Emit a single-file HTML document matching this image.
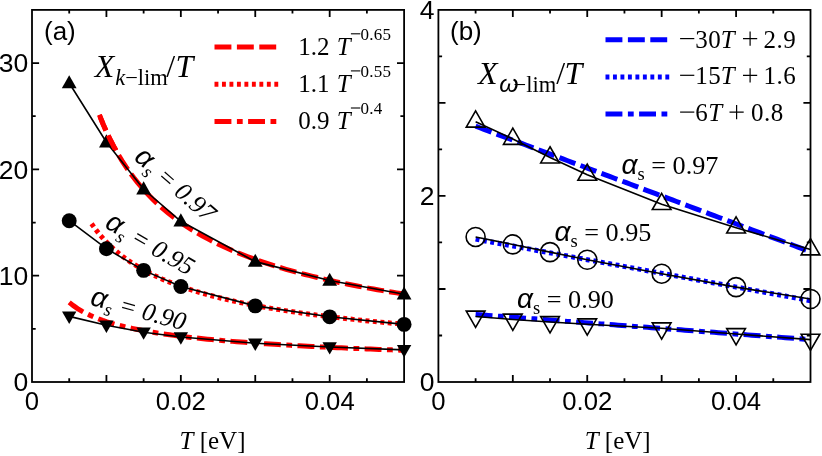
<!DOCTYPE html>
<html><head><meta charset="utf-8"><title>chart</title>
<style>html,body{margin:0;padding:0;background:#fff;}svg{display:block;will-change:transform;}</style></head>
<body>
<svg width="822" height="456" viewBox="0 0 822 456">
<rect width="822" height="456" fill="#fff"/>
<path d="M99.35,114.91 L103.16,124.30 L106.97,132.89 L110.78,140.78 L114.59,148.07 L118.40,154.83 L122.21,161.11 L126.02,166.97 L129.83,172.45 L133.63,177.59 L137.44,182.42 L141.25,186.98 L145.06,191.27 L148.87,195.34 L152.68,199.19 L156.49,202.84 L160.30,206.32 L164.11,209.63 L167.92,212.78 L171.73,215.80 L175.54,218.68 L179.35,221.44 L183.16,224.08 L186.97,226.61 L190.78,229.05 L194.58,231.38 L198.39,233.63 L202.20,235.80 L206.01,237.89 L209.82,239.90 L213.63,241.85 L217.44,243.73 L221.25,245.54 L225.06,247.30 L228.87,249.00 L232.68,250.64 L236.49,252.24 L240.30,253.79 L244.11,255.29 L247.92,256.75 L251.73,258.16 L255.53,259.54 L259.34,260.88 L263.15,262.18 L266.96,263.44 L270.77,264.68 L274.58,265.88 L278.39,267.05 L282.20,268.19 L286.01,269.30 L289.82,270.39 L293.63,271.45 L297.44,272.48 L301.25,273.49 L305.06,274.48 L308.87,275.44 L312.68,276.38 L316.48,277.30 L320.29,278.20 L324.10,279.09 L327.91,279.95 L331.72,280.79 L335.53,281.62 L339.34,282.43 L343.15,283.23 L346.96,284.00 L350.77,284.77 L354.58,285.52 L358.39,286.25 L362.20,286.97 L366.01,287.67 L369.82,288.37 L373.63,289.05 L377.43,289.71 L381.24,290.37 L385.05,291.01 L388.86,291.65 L392.67,292.27 L396.48,292.88 L400.29,293.48 L404.10,294.07" stroke="#ff0000" stroke-width="5.0" stroke-dasharray="16.9 5.5" fill="none"/>
<path d="M91.54,223.72 L95.44,229.16 L99.35,234.10 L103.26,238.62 L107.16,242.77 L111.07,246.59 L114.98,250.14 L118.89,253.43 L122.79,256.51 L126.70,259.38 L130.61,262.08 L134.51,264.61 L138.42,267.00 L142.33,269.26 L146.23,271.40 L150.14,273.42 L154.05,275.35 L157.96,277.18 L161.86,278.93 L165.77,280.60 L169.68,282.19 L173.58,283.71 L177.49,285.17 L181.40,286.57 L185.31,287.92 L189.21,289.21 L193.12,290.46 L197.03,291.66 L200.93,292.81 L204.84,293.93 L208.75,295.00 L212.65,296.04 L216.56,297.05 L220.47,298.02 L224.38,298.96 L228.28,299.88 L232.19,300.76 L236.10,301.62 L240.00,302.45 L243.91,303.26 L247.82,304.05 L251.73,304.82 L255.63,305.56 L259.54,306.29 L263.45,306.99 L267.35,307.68 L271.26,308.35 L275.17,309.00 L279.07,309.64 L282.98,310.26 L286.89,310.87 L290.80,311.46 L294.70,312.04 L298.61,312.61 L302.52,313.16 L306.42,313.70 L310.33,314.23 L314.24,314.75 L318.14,315.25 L322.05,315.75 L325.96,316.23 L329.87,316.71 L333.77,317.18 L337.68,317.63 L341.59,318.08 L345.49,318.52 L349.40,318.95 L353.31,319.38 L357.22,319.79 L361.12,320.20 L365.03,320.60 L368.94,320.99 L372.84,321.38 L376.75,321.75 L380.66,322.13 L384.56,322.49 L388.47,322.85 L392.38,323.21 L396.29,323.55 L400.19,323.90 L404.10,324.23" stroke="#ff0000" stroke-width="5.0" stroke-dasharray="3.9 3.58" fill="none"/>
<path d="M69.21,302.34 L73.40,305.66 L77.58,308.55 L81.77,311.09 L85.95,313.34 L90.14,315.36 L94.33,317.19 L98.51,318.85 L102.70,320.38 L106.89,321.78 L111.07,323.07 L115.26,324.28 L119.44,325.40 L123.63,326.45 L127.82,327.43 L132.00,328.36 L136.19,329.23 L140.37,330.06 L144.56,330.84 L148.75,331.58 L152.93,332.28 L157.12,332.96 L161.30,333.60 L165.49,334.21 L169.68,334.80 L173.86,335.36 L178.05,335.90 L182.24,336.42 L186.42,336.92 L190.61,337.40 L194.79,337.86 L198.98,338.30 L203.17,338.73 L207.35,339.15 L211.54,339.55 L215.72,339.94 L219.91,340.32 L224.10,340.69 L228.28,341.04 L232.47,341.38 L236.66,341.72 L240.84,342.04 L245.03,342.36 L249.21,342.67 L253.40,342.97 L257.59,343.26 L261.77,343.54 L265.96,343.82 L270.14,344.09 L274.33,344.35 L278.52,344.61 L282.70,344.86 L286.89,345.10 L291.07,345.34 L295.26,345.58 L299.45,345.81 L303.63,346.03 L307.82,346.25 L312.01,346.47 L316.19,346.68 L320.38,346.88 L324.56,347.08 L328.75,347.28 L332.94,347.48 L337.12,347.67 L341.31,347.85 L345.49,348.04 L349.68,348.22 L353.87,348.39 L358.05,348.57 L362.24,348.74 L366.42,348.90 L370.61,349.07 L374.80,349.23 L378.98,349.39 L383.17,349.54 L387.36,349.70 L391.54,349.85 L395.73,350.00 L399.91,350.14 L404.10,350.29" stroke="#ff0000" stroke-width="5.0" stroke-dasharray="16.9 5.5 5.8 5.4" fill="none"/>
<path d="M69.21,83.04 L106.42,142.26 L143.63,189.25 L180.84,221.25 L255.26,261.65 L329.68,280.58 L404.10,294.29" stroke="#000" stroke-width="1.6" fill="none"/>
<path d="M69.21,75.14 L76.61,88.24 L61.81,88.24 Z" fill="#000"/>
<path d="M106.42,134.36 L113.82,147.46 L99.02,147.46 Z" fill="#000"/>
<path d="M143.63,181.35 L151.03,194.45 L136.23,194.45 Z" fill="#000"/>
<path d="M180.84,213.35 L188.24,226.45 L173.44,226.45 Z" fill="#000"/>
<path d="M255.26,253.75 L262.66,266.85 L247.86,266.85 Z" fill="#000"/>
<path d="M329.68,272.68 L337.08,285.78 L322.28,285.78 Z" fill="#000"/>
<path d="M404.10,286.39 L411.50,299.49 L396.70,299.49 Z" fill="#000"/>
<path d="M69.21,220.72 L106.42,248.68 L143.63,270.37 L180.84,286.53 L255.26,305.88 L329.68,316.83 L404.10,324.38" stroke="#000" stroke-width="1.6" fill="none"/>
<circle cx="69.21" cy="220.72" r="7.45" fill="#000"/>
<circle cx="106.42" cy="248.68" r="7.45" fill="#000"/>
<circle cx="143.63" cy="270.37" r="7.45" fill="#000"/>
<circle cx="180.84" cy="286.53" r="7.45" fill="#000"/>
<circle cx="255.26" cy="305.88" r="7.45" fill="#000"/>
<circle cx="329.68" cy="316.83" r="7.45" fill="#000"/>
<circle cx="404.10" cy="324.38" r="7.45" fill="#000"/>
<path d="M69.21,316.40 L106.42,325.33 L143.63,332.24 L180.84,337.03 L255.26,343.30 L329.68,347.02 L404.10,349.89" stroke="#000" stroke-width="1.6" fill="none"/>
<path d="M69.21,324.00 L76.41,311.60 L62.01,311.60 Z" fill="#000"/>
<path d="M106.42,332.93 L113.62,320.53 L99.22,320.53 Z" fill="#000"/>
<path d="M143.63,339.84 L150.83,327.44 L136.43,327.44 Z" fill="#000"/>
<path d="M180.84,344.63 L188.04,332.23 L173.64,332.23 Z" fill="#000"/>
<path d="M255.26,350.90 L262.46,338.50 L248.06,338.50 Z" fill="#000"/>
<path d="M329.68,354.62 L336.88,342.22 L322.48,342.22 Z" fill="#000"/>
<path d="M404.10,357.49 L411.30,345.09 L396.90,345.09 Z" fill="#000"/>
<clipPath id="c1"><rect x="98" y="108" width="24" height="42"/></clipPath>
<path clip-path="url(#c1)" d="M99.35,114.91 L103.16,124.30 L106.97,132.89 L110.78,140.78 L114.59,148.07 L118.40,154.83 L122.21,161.11 L126.02,166.97 L129.83,172.45 L133.63,177.59 L137.44,182.42 L141.25,186.98 L145.06,191.27 L148.87,195.34 L152.68,199.19 L156.49,202.84 L160.30,206.32 L164.11,209.63 L167.92,212.78 L171.73,215.80 L175.54,218.68 L179.35,221.44 L183.16,224.08 L186.97,226.61 L190.78,229.05 L194.58,231.38 L198.39,233.63 L202.20,235.80 L206.01,237.89 L209.82,239.90 L213.63,241.85 L217.44,243.73 L221.25,245.54 L225.06,247.30 L228.87,249.00 L232.68,250.64 L236.49,252.24 L240.30,253.79 L244.11,255.29 L247.92,256.75 L251.73,258.16 L255.53,259.54 L259.34,260.88 L263.15,262.18 L266.96,263.44 L270.77,264.68 L274.58,265.88 L278.39,267.05 L282.20,268.19 L286.01,269.30 L289.82,270.39 L293.63,271.45 L297.44,272.48 L301.25,273.49 L305.06,274.48 L308.87,275.44 L312.68,276.38 L316.48,277.30 L320.29,278.20 L324.10,279.09 L327.91,279.95 L331.72,280.79 L335.53,281.62 L339.34,282.43 L343.15,283.23 L346.96,284.00 L350.77,284.77 L354.58,285.52 L358.39,286.25 L362.20,286.97 L366.01,287.67 L369.82,288.37 L373.63,289.05 L377.43,289.71 L381.24,290.37 L385.05,291.01 L388.86,291.65 L392.67,292.27 L396.48,292.88 L400.29,293.48 L404.10,294.07" stroke="#ff0000" stroke-width="5.0" stroke-dasharray="16.9 5.5" fill="none"/>
<rect x="32.0" y="9.9" width="372.1" height="372.1" fill="none" stroke="#000" stroke-width="1.8"/>
<path d="M69.21,382.0 v-3.7 M69.21,9.9 v3.7 M106.42,382.0 v-7.1 M106.42,9.9 v7.1 M143.63,382.0 v-3.7 M143.63,9.9 v3.7 M180.84,382.0 v-7.1 M180.84,9.9 v7.1 M218.05,382.0 v-3.7 M218.05,9.9 v3.7 M255.26,382.0 v-7.1 M255.26,9.9 v7.1 M292.47,382.0 v-3.7 M292.47,9.9 v3.7 M329.68,382.0 v-7.1 M329.68,9.9 v7.1 M366.89,382.0 v-3.7 M366.89,9.9 v3.7 M32.0,275.69 h7.1 M404.1,275.69 h-7.1 M32.0,169.37 h7.1 M404.1,169.37 h-7.1 M32.0,63.06 h7.1 M404.1,63.06 h-7.1 M32.0,328.84 h3.7 M404.1,328.84 h-3.7 M32.0,222.53 h3.7 M404.1,222.53 h-3.7 M32.0,116.21 h3.7 M404.1,116.21 h-3.7" stroke="#000" stroke-width="1.8" fill="none"/>
<path d="M475.61,126.18 L479.80,127.75 L483.98,129.32 L488.17,130.89 L492.35,132.46 L496.54,134.03 L500.73,135.60 L504.91,137.17 L509.10,138.74 L513.29,140.31 L517.47,141.88 L521.66,143.45 L525.84,145.02 L530.03,146.59 L534.22,148.16 L538.40,149.73 L542.59,151.30 L546.77,152.87 L550.96,154.44 L555.15,156.01 L559.33,157.58 L563.52,159.15 L567.70,160.72 L571.89,162.29 L576.08,163.86 L580.26,165.43 L584.45,167.00 L588.64,168.57 L592.82,170.14 L597.01,171.71 L601.19,173.28 L605.38,174.84 L609.57,176.41 L613.75,177.98 L617.94,179.55 L622.12,181.12 L626.31,182.69 L630.50,184.26 L634.68,185.83 L638.87,187.40 L643.05,188.97 L647.24,190.54 L651.43,192.11 L655.61,193.68 L659.80,195.25 L663.99,196.82 L668.17,198.39 L672.36,199.96 L676.54,201.53 L680.73,203.10 L684.92,204.67 L689.10,206.24 L693.29,207.81 L697.47,209.38 L701.66,210.95 L705.85,212.52 L710.03,214.09 L714.22,215.66 L718.41,217.23 L722.59,218.80 L726.78,220.37 L730.96,221.94 L735.15,223.51 L739.34,225.08 L743.52,226.65 L747.71,228.22 L751.89,229.79 L756.08,231.36 L760.27,232.93 L764.45,234.50 L768.64,236.07 L772.82,237.64 L777.01,239.21 L781.20,240.78 L785.38,242.35 L789.57,243.92 L793.76,245.49 L797.94,247.06 L802.13,248.63 L806.31,250.20 L810.50,251.76" stroke="#0000ff" stroke-width="5.0" stroke-dasharray="16.9 5.5" fill="none"/>
<path d="M475.61,239.16 L479.80,239.93 L483.98,240.70 L488.17,241.47 L492.35,242.24 L496.54,243.01 L500.73,243.78 L504.91,244.54 L509.10,245.31 L513.29,246.08 L517.47,246.85 L521.66,247.62 L525.84,248.39 L530.03,249.16 L534.22,249.93 L538.40,250.70 L542.59,251.47 L546.77,252.24 L550.96,253.01 L555.15,253.77 L559.33,254.54 L563.52,255.31 L567.70,256.08 L571.89,256.85 L576.08,257.62 L580.26,258.39 L584.45,259.16 L588.64,259.93 L592.82,260.70 L597.01,261.47 L601.19,262.24 L605.38,263.01 L609.57,263.77 L613.75,264.54 L617.94,265.31 L622.12,266.08 L626.31,266.85 L630.50,267.62 L634.68,268.39 L638.87,269.16 L643.05,269.93 L647.24,270.70 L651.43,271.47 L655.61,272.24 L659.80,273.00 L663.99,273.77 L668.17,274.54 L672.36,275.31 L676.54,276.08 L680.73,276.85 L684.92,277.62 L689.10,278.39 L693.29,279.16 L697.47,279.93 L701.66,280.70 L705.85,281.47 L710.03,282.24 L714.22,283.00 L718.41,283.77 L722.59,284.54 L726.78,285.31 L730.96,286.08 L735.15,286.85 L739.34,287.62 L743.52,288.39 L747.71,289.16 L751.89,289.93 L756.08,290.70 L760.27,291.47 L764.45,292.23 L768.64,293.00 L772.82,293.77 L777.01,294.54 L781.20,295.31 L785.38,296.08 L789.57,296.85 L793.76,297.62 L797.94,298.39 L802.13,299.16 L806.31,299.93 L810.50,300.70" stroke="#0000ff" stroke-width="5.0" stroke-dasharray="3.9 3.58" fill="none"/>
<path d="M475.61,314.46 L479.80,314.78 L483.98,315.09 L488.17,315.41 L492.35,315.72 L496.54,316.03 L500.73,316.35 L504.91,316.66 L509.10,316.98 L513.29,317.29 L517.47,317.60 L521.66,317.92 L525.84,318.23 L530.03,318.55 L534.22,318.86 L538.40,319.17 L542.59,319.49 L546.77,319.80 L550.96,320.12 L555.15,320.43 L559.33,320.74 L563.52,321.06 L567.70,321.37 L571.89,321.68 L576.08,322.00 L580.26,322.31 L584.45,322.63 L588.64,322.94 L592.82,323.25 L597.01,323.57 L601.19,323.88 L605.38,324.20 L609.57,324.51 L613.75,324.82 L617.94,325.14 L622.12,325.45 L626.31,325.77 L630.50,326.08 L634.68,326.39 L638.87,326.71 L643.05,327.02 L647.24,327.34 L651.43,327.65 L655.61,327.96 L659.80,328.28 L663.99,328.59 L668.17,328.91 L672.36,329.22 L676.54,329.53 L680.73,329.85 L684.92,330.16 L689.10,330.48 L693.29,330.79 L697.47,331.10 L701.66,331.42 L705.85,331.73 L710.03,332.05 L714.22,332.36 L718.41,332.67 L722.59,332.99 L726.78,333.30 L730.96,333.62 L735.15,333.93 L739.34,334.24 L743.52,334.56 L747.71,334.87 L751.89,335.19 L756.08,335.50 L760.27,335.81 L764.45,336.13 L768.64,336.44 L772.82,336.75 L777.01,337.07 L781.20,337.38 L785.38,337.70 L789.57,338.01 L793.76,338.32 L797.94,338.64 L802.13,338.95 L806.31,339.27 L810.50,339.58" stroke="#0000ff" stroke-width="5.0" stroke-dasharray="16.9 5.5 5.8 5.4" fill="none"/>
<path d="M475.61,121.72 L512.82,138.93 L550.03,157.53 L587.24,174.83 L661.66,204.14 L736.08,227.67 L810.50,249.44" stroke="#000" stroke-width="1.6" fill="none"/>
<path d="M475.61,110.92 L484.96,127.12 L466.26,127.12 Z" fill="none" stroke="#000" stroke-width="1.6" stroke-linejoin="miter"/>
<path d="M512.82,128.13 L522.17,144.33 L503.47,144.33 Z" fill="none" stroke="#000" stroke-width="1.6" stroke-linejoin="miter"/>
<path d="M550.03,146.73 L559.38,162.93 L540.68,162.93 Z" fill="none" stroke="#000" stroke-width="1.6" stroke-linejoin="miter"/>
<path d="M587.24,164.03 L596.59,180.23 L577.89,180.23 Z" fill="none" stroke="#000" stroke-width="1.6" stroke-linejoin="miter"/>
<path d="M661.66,193.34 L671.01,209.54 L652.31,209.54 Z" fill="none" stroke="#000" stroke-width="1.6" stroke-linejoin="miter"/>
<path d="M736.08,216.87 L745.43,233.07 L726.73,233.07 Z" fill="none" stroke="#000" stroke-width="1.6" stroke-linejoin="miter"/>
<path d="M810.50,238.64 L819.85,254.84 L801.15,254.84 Z" fill="none" stroke="#000" stroke-width="1.6" stroke-linejoin="miter"/>
<path d="M475.61,236.97 L512.82,244.42 L550.03,252.14 L587.24,259.77 L661.66,273.72 L736.08,287.11 L810.50,299.02" stroke="#000" stroke-width="1.6" fill="none"/>
<circle cx="475.61" cy="236.97" r="9.5" fill="none" stroke="#000" stroke-width="1.6"/>
<circle cx="512.82" cy="244.42" r="9.5" fill="none" stroke="#000" stroke-width="1.6"/>
<circle cx="550.03" cy="252.14" r="9.5" fill="none" stroke="#000" stroke-width="1.6"/>
<circle cx="587.24" cy="259.77" r="9.5" fill="none" stroke="#000" stroke-width="1.6"/>
<circle cx="661.66" cy="273.72" r="9.5" fill="none" stroke="#000" stroke-width="1.6"/>
<circle cx="736.08" cy="287.11" r="9.5" fill="none" stroke="#000" stroke-width="1.6"/>
<circle cx="810.50" cy="299.02" r="9.5" fill="none" stroke="#000" stroke-width="1.6"/>
<path d="M475.61,316.51 L512.82,319.49 L550.03,322.00 L587.24,324.32 L661.66,328.23 L736.08,334.00 L810.50,339.58" stroke="#000" stroke-width="1.6" fill="none"/>
<path d="M475.61,327.31 L484.96,311.11 L466.26,311.11 Z" fill="none" stroke="#000" stroke-width="1.6" stroke-linejoin="miter"/>
<path d="M512.82,330.29 L522.17,314.09 L503.47,314.09 Z" fill="none" stroke="#000" stroke-width="1.6" stroke-linejoin="miter"/>
<path d="M550.03,332.80 L559.38,316.60 L540.68,316.60 Z" fill="none" stroke="#000" stroke-width="1.6" stroke-linejoin="miter"/>
<path d="M587.24,335.12 L596.59,318.92 L577.89,318.92 Z" fill="none" stroke="#000" stroke-width="1.6" stroke-linejoin="miter"/>
<path d="M661.66,339.03 L671.01,322.83 L652.31,322.83 Z" fill="none" stroke="#000" stroke-width="1.6" stroke-linejoin="miter"/>
<path d="M736.08,344.80 L745.43,328.60 L726.73,328.60 Z" fill="none" stroke="#000" stroke-width="1.6" stroke-linejoin="miter"/>
<path d="M810.50,350.38 L819.85,334.18 L801.15,334.18 Z" fill="none" stroke="#000" stroke-width="1.6" stroke-linejoin="miter"/>
<rect x="438.4" y="9.9" width="372.1" height="372.1" fill="none" stroke="#000" stroke-width="1.8"/>
<path d="M475.61,382.0 v-3.7 M475.61,9.9 v3.7 M512.82,382.0 v-7.1 M512.82,9.9 v7.1 M550.03,382.0 v-3.7 M550.03,9.9 v3.7 M587.24,382.0 v-7.1 M587.24,9.9 v7.1 M624.45,382.0 v-3.7 M624.45,9.9 v3.7 M661.66,382.0 v-7.1 M661.66,9.9 v7.1 M698.87,382.0 v-3.7 M698.87,9.9 v3.7 M736.08,382.0 v-7.1 M736.08,9.9 v7.1 M773.29,382.0 v-3.7 M773.29,9.9 v3.7 M438.4,288.98 h7.1 M810.5,288.98 h-7.1 M438.4,195.95 h7.1 M810.5,195.95 h-7.1 M438.4,102.92 h7.1 M810.5,102.92 h-7.1 M438.4,335.49 h3.7 M810.5,335.49 h-3.7 M438.4,242.46 h3.7 M810.5,242.46 h-3.7 M438.4,149.44 h3.7 M810.5,149.44 h-3.7 M438.4,56.41 h3.7 M810.5,56.41 h-3.7" stroke="#000" stroke-width="1.8" fill="none"/>
<path d="M214.5,47.0 H276.5" stroke="#ff0000" stroke-width="5.0" stroke-dasharray="16.9 5.5" fill="none"/>
<path d="M605.5,39.7 H668.2" stroke="#0000ff" stroke-width="5.0" stroke-dasharray="16.9 5.5" fill="none"/>
<path d="M214.5,84.3 H278.2" stroke="#ff0000" stroke-width="5.0" stroke-dasharray="3.9 3.58" fill="none"/>
<path d="M605.5,76.9 H669.4" stroke="#0000ff" stroke-width="5.0" stroke-dasharray="3.9 3.58" fill="none"/>
<path d="M214.5,121.6 H276.5" stroke="#ff0000" stroke-width="5.0" stroke-dasharray="16.9 5.5 5.8 5.4" fill="none"/>
<path d="M605.5,114.1 H668.2" stroke="#0000ff" stroke-width="5.0" stroke-dasharray="16.9 5.5 5.8 5.4" fill="none"/>
<text x="28.3" y="391.3" font-family="Liberation Sans, sans-serif" font-size="26.5" text-anchor="end" fill="#000" >0</text>
<text x="28.3" y="284.9857142857143" font-family="Liberation Sans, sans-serif" font-size="26.5" text-anchor="end" fill="#000" >10</text>
<text x="28.3" y="178.67142857142858" font-family="Liberation Sans, sans-serif" font-size="26.5" text-anchor="end" fill="#000" >20</text>
<text x="28.3" y="72.35714285714288" font-family="Liberation Sans, sans-serif" font-size="26.5" text-anchor="end" fill="#000" >30</text>
<text x="434.5" y="391.0" font-family="Liberation Sans, sans-serif" font-size="26.5" text-anchor="end" fill="#000" >0</text>
<text x="434.5" y="204.95" font-family="Liberation Sans, sans-serif" font-size="26.5" text-anchor="end" fill="#000" >2</text>
<text x="434.5" y="18.899999999999977" font-family="Liberation Sans, sans-serif" font-size="26.5" text-anchor="end" fill="#000" >4</text>
<text x="32.0" y="409.5" font-family="Liberation Sans, sans-serif" font-size="25.7" text-anchor="middle" fill="#000" >0</text>
<text x="438.4" y="409.5" font-family="Liberation Sans, sans-serif" font-size="25.7" text-anchor="middle" fill="#000" >0</text>
<text x="180.84" y="409.5" font-family="Liberation Sans, sans-serif" font-size="25.7" text-anchor="middle" fill="#000" >0.02</text>
<text x="587.24" y="409.5" font-family="Liberation Sans, sans-serif" font-size="25.7" text-anchor="middle" fill="#000" >0.02</text>
<text x="329.68" y="409.5" font-family="Liberation Sans, sans-serif" font-size="25.7" text-anchor="middle" fill="#000" >0.04</text>
<text x="736.0799999999999" y="409.5" font-family="Liberation Sans, sans-serif" font-size="25.7" text-anchor="middle" fill="#000" >0.04</text>
<text x="44" y="39.8" font-family="Liberation Sans, sans-serif" font-size="26" text-anchor="start" fill="#000" >(a)</text>
<text x="450" y="39.8" font-family="Liberation Sans, sans-serif" font-size="26" text-anchor="start" fill="#000" >(b)</text>
<text x="179.5" y="449" font-family="Liberation Serif, serif" font-size="25"><tspan font-style="italic">T</tspan> [eV]</text>
<text x="584.7" y="449" font-family="Liberation Serif, serif" font-size="25"><tspan font-style="italic">T</tspan> [eV]</text>
<text x="94.8" y="77" font-family="Liberation Serif, serif" font-size="32" font-style="italic">X<tspan font-size="22.5" dy="7.7" dx="0.8">k</tspan><tspan font-size="22.5" font-style="normal">−lim</tspan><tspan dy="-7.7" dx="-1.6" font-style="normal">/</tspan><tspan dx="0.3">T</tspan></text>
<text x="478" y="83.9" font-family="Liberation Serif, serif" font-size="32" font-style="italic">X<tspan font-size="24.7" dy="8.4" dx="1.6" font-family="Liberation Sans, sans-serif">ω</tspan><tspan font-size="22.5" font-style="normal" dx="-4.9">−lim</tspan><tspan dy="-8.4" font-style="normal">/</tspan><tspan dx="-0.7">T</tspan></text>
<text x="298.3" y="54.7" font-family="Liberation Serif, serif" font-size="25">1.2</text>
<text x="336.8" y="54.7" font-family="Liberation Serif, serif" font-size="25" font-style="italic">T</text>
<path d="M350.9,33.8 h9.4" stroke="#000" stroke-width="1.1"/>
<text x="360.6" y="40.1" font-family="Liberation Serif, serif" font-size="17" letter-spacing="0.2">0.65</text>
<text x="298.3" y="91.8" font-family="Liberation Serif, serif" font-size="25">1.1</text>
<text x="336.8" y="91.8" font-family="Liberation Serif, serif" font-size="25" font-style="italic">T</text>
<path d="M350.9,70.9 h9.4" stroke="#000" stroke-width="1.1"/>
<text x="360.6" y="77.2" font-family="Liberation Serif, serif" font-size="17" letter-spacing="0.2">0.55</text>
<text x="298.3" y="128.9" font-family="Liberation Serif, serif" font-size="25">0.9</text>
<text x="336.8" y="128.9" font-family="Liberation Serif, serif" font-size="25" font-style="italic">T</text>
<path d="M350.9,108.0 h9.4" stroke="#000" stroke-width="1.1"/>
<text x="360.6" y="114.3" font-family="Liberation Serif, serif" font-size="17" letter-spacing="0.2">0.4</text>
<path d="M680.1,38.6 h14.2" stroke="#000" stroke-width="1.2"/>
<text x="695.3" y="47.6" font-family="Liberation Serif, serif" font-size="25" letter-spacing="0.4">30</text>
<text x="720.7" y="47.6" font-family="Liberation Serif, serif" font-size="25" font-style="italic">T</text>
<path d="M743.0,38.6 h14.2 M750.1,31.5 v14.2" stroke="#000" stroke-width="1.2" fill="none"/>
<text x="763.4" y="47.6" font-family="Liberation Serif, serif" font-size="25" letter-spacing="0.5">2.9</text>
<path d="M680.1,75.3 h14.2" stroke="#000" stroke-width="1.2"/>
<text x="695.3" y="84.3" font-family="Liberation Serif, serif" font-size="25" letter-spacing="0.4">15</text>
<text x="720.7" y="84.3" font-family="Liberation Serif, serif" font-size="25" font-style="italic">T</text>
<path d="M743.0,75.3 h14.2 M750.1,68.2 v14.2" stroke="#000" stroke-width="1.2" fill="none"/>
<text x="763.4" y="84.3" font-family="Liberation Serif, serif" font-size="25" letter-spacing="0.5">1.6</text>
<path d="M680.1,112.1 h14.2" stroke="#000" stroke-width="1.2"/>
<text x="695.3" y="121.1" font-family="Liberation Serif, serif" font-size="25" letter-spacing="0.4">6</text>
<text x="708.2" y="121.1" font-family="Liberation Serif, serif" font-size="25" font-style="italic">T</text>
<path d="M729.5,112.1 h14.2 M736.6,105.0 v14.2" stroke="#000" stroke-width="1.2" fill="none"/>
<text x="750.9" y="121.1" font-family="Liberation Serif, serif" font-size="25" letter-spacing="0.5">0.8</text>
<text transform="translate(133,159) rotate(41)" font-family="Liberation Serif, serif" font-size="25.5"><tspan font-family="Liberation Sans, sans-serif" font-style="italic" font-size="28">α</tspan><tspan font-size="18.5" dy="6" font-style="italic">s</tspan><tspan dy="-6" font-style="italic"> = 0.97</tspan></text>
<text transform="translate(103.7,227) rotate(30)" font-family="Liberation Serif, serif" font-size="25.5"><tspan font-family="Liberation Sans, sans-serif" font-style="italic" font-size="28">α</tspan><tspan font-size="18.5" dy="6" font-style="italic">s</tspan><tspan dy="-6" font-style="italic"> = 0.95</tspan></text>
<text transform="translate(89.2,304.4) rotate(15.5)" font-family="Liberation Serif, serif" font-size="25.5"><tspan font-family="Liberation Sans, sans-serif" font-style="italic" font-size="28">α</tspan><tspan font-size="18.5" dy="6" font-style="italic">s</tspan><tspan dy="-6" font-style="italic"> = 0.90</tspan></text>
<text transform="translate(621.5,174.2) rotate(0)" font-family="Liberation Serif, serif" font-size="26.2"><tspan font-family="Liberation Sans, sans-serif" font-style="italic" font-size="28">α</tspan><tspan font-size="18.5" dy="6" >s</tspan><tspan dy="-6" > = 0.97</tspan></text>
<text transform="translate(554.5,240.6) rotate(0)" font-family="Liberation Serif, serif" font-size="26.2"><tspan font-family="Liberation Sans, sans-serif" font-style="italic" font-size="28">α</tspan><tspan font-size="18.5" dy="6" >s</tspan><tspan dy="-6" > = 0.95</tspan></text>
<text transform="translate(517,307.7) rotate(0)" font-family="Liberation Serif, serif" font-size="26.2"><tspan font-family="Liberation Sans, sans-serif" font-style="italic" font-size="28">α</tspan><tspan font-size="18.5" dy="6" >s</tspan><tspan dy="-6" > = 0.90</tspan></text>
</svg>
</body></html>
